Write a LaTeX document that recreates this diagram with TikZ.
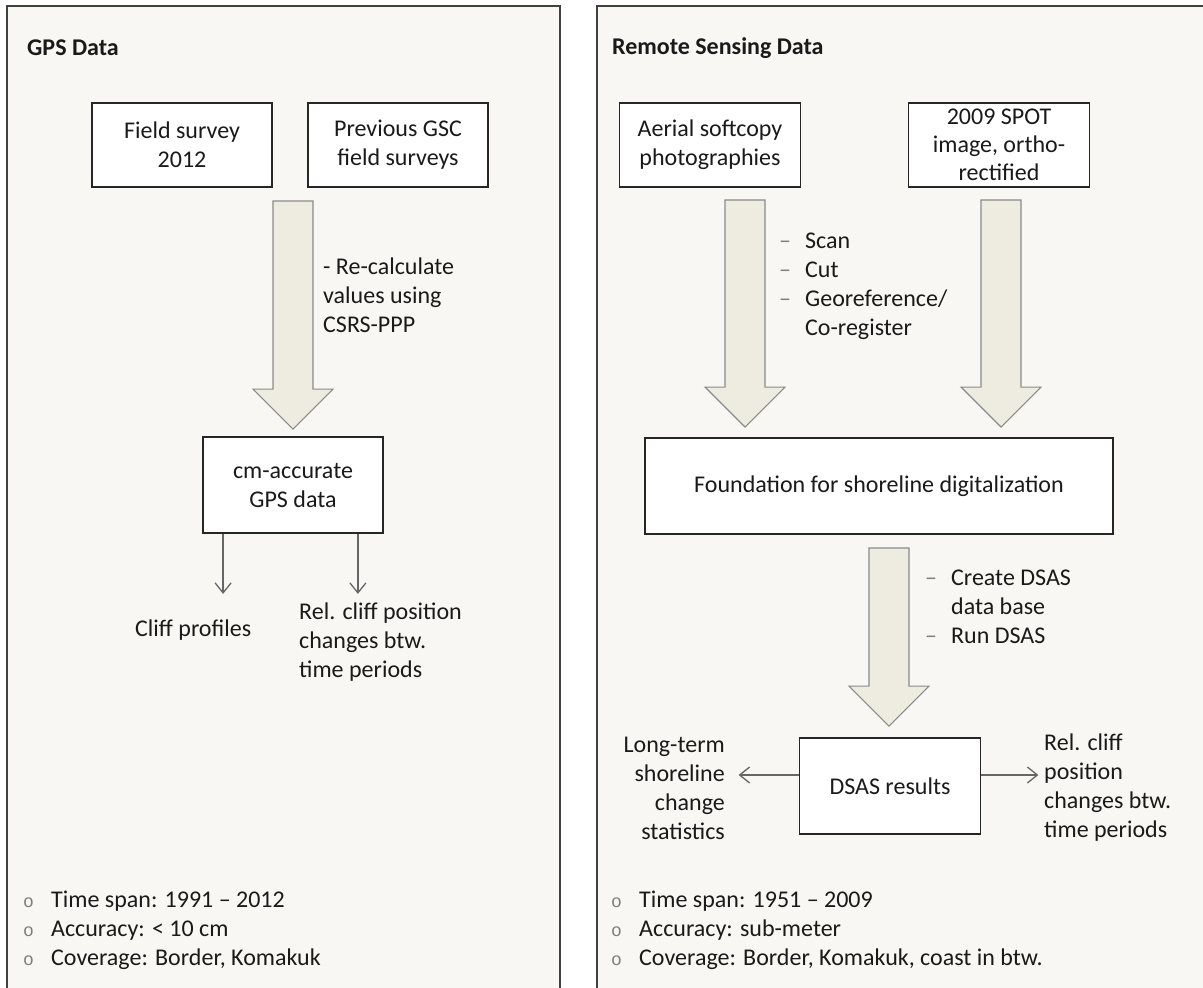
\documentclass[tikz,border=0pt]{standalone}
\usepackage{fontspec}
\setmainfont{Carlito}
\newfontfamily\bulfont{Liberation Mono}
\usetikzlibrary{calc,arrows.meta}
\definecolor{panelbg}{HTML}{F8F7F3}
\definecolor{panelborder}{HTML}{404040}
\definecolor{arrowfill}{HTML}{EEECE1}
\definecolor{arrowdraw}{HTML}{8A8A8A}
\definecolor{txt}{HTML}{1A1A1A}
\definecolor{thincol}{HTML}{666666}
\definecolor{dashcol}{HTML}{7F7F7F}
\newcommand\blockarrow[2]{\draw[bigarrow] let \p1=#1, \p2=#2 in (\x1-20pt,\y1) -- (\x1+20pt,\y1) -- (\x1+20pt,\y2+40pt) -- (\x1+40pt,\y2+40pt) -- (\x1,\y2) -- (\x1-40pt,\y2+40pt) -- (\x1-20pt,\y2+40pt) -- cycle;}
\newcommand\bul{\makebox[28pt][l]{\bulfont\fontsize{18}{29}\selectfont\color{dashcol}o}}
\newcommand\dsh{\textcolor{dashcol}{–}}
\begin{document}
\begin{tikzpicture}[x=1pt,y=-1pt, font=\fontsize{24}{29}\selectfont, text=txt,
 panel/.style={draw=panelborder, line width=1.5pt, fill=panelbg},
 box/.style={draw=black!85, line width=1.8pt, fill=white, align=center, inner sep=0pt},
 bigarrow/.style={draw=arrowdraw, line width=1.2pt, fill=arrowfill, line join=miter},
 lbl/.style={align=left, inner sep=0pt},
 thinarrow/.style={draw=thincol, line width=1.3pt, -{Straight Barb[length=10pt,width=16pt]}},
 title/.style={font=\fontsize{24}{29}\selectfont\bfseries, inner sep=0pt, anchor=west}]

\useasboundingbox (0,0) rectangle (1203,988);
\fill[white] (0,0) rectangle (1203,988);
\begin{scope}
\clip (0,0) rectangle (1203,988);
\draw[panel] (7,6) rectangle (560,1010);
\draw[panel] (597,6) rectangle (1220,1010);
\end{scope}

% titles
\node[title] (t1) at (27,48) {GPS Data};
\node[title] (t2) at (612,48) {Remote Sensing Data};

% left panel
\node[box, minimum width=180pt, minimum height=84pt] (f1) at (182,145) {Field survey\\2012};
\node[box, minimum width=180pt, minimum height=84pt] (f2) at (398,145) {Previous GSC\\field surveys};
\node[box, minimum width=180pt, minimum height=96pt] (cm) at (293,485) {cm-accurate\\GPS data};

\coordinate (aL) at ($(f1.south east)!0.5!(f2.south west)+(3,13)$);
\coordinate (aLt) at ($(aL |- cm.north)+(0,-7)$);
\blockarrow{(aL)}{(aLt)}

\node[lbl, anchor=west] (rl) at (323,295) {- Re-calculate\\values using\\CSRS-PPP};

\coordinate (c1) at ($(cm.south west)+(21,60)$);
\coordinate (c2) at ($(cm.south east)+(-26,60)$);
\draw[thinarrow] (cm.south west -| c1) -- (c1);
\draw[thinarrow] (cm.south west -| c2) -- (c2);

\node[lbl, anchor=west] (cp) at (135,630) {Cliff profiles};
\node[lbl, anchor=west] (rc1) at (299,642) {Rel. cliff position\\changes btw.\\time periods};

\node[lbl, anchor=west] (l1) at (23,931) {\begin{tabular}{@{}l@{}l@{}}
\bul & Time span: 1991 – 2012\\
\bul & Accuracy: < 10 cm\\
\bul & Coverage: Border, Komakuk
\end{tabular}};

% right panel
\node[box, minimum width=181pt, minimum height=84pt] (a1) at (710,145) {Aerial softcopy\\photographies};
\node[box, minimum width=181pt, minimum height=84pt, font=\fontsize{24}{28}\selectfont] (s1) at (999,145) {2009 SPOT\\image, ortho-\\rectified};
\node[box, minimum width=468pt, minimum height=96pt] (fd) at (879,486) {Foundation for shoreline digitalization};
\node[box, minimum width=181pt, minimum height=96pt] (ds) at (890,786) {DSAS results};

\coordinate (aR1) at ($(a1.south)+(35,12)$);
\coordinate (aR1t) at ($(aR1 |- fd.north)+(0,-10)$);
\blockarrow{(aR1)}{(aR1t)}
\coordinate (aR2) at ($(s1.south)+(2,12)$);
\coordinate (aR2t) at ($(aR2 |- fd.north)+(0,-10)$);
\blockarrow{(aR2)}{(aR2t)}
\coordinate (aR3) at ($(fd.south)+(10,13)$);
\coordinate (aR3t) at ($(aR3 |- ds.north)+(0,-11)$);
\blockarrow{(aR3)}{(aR3t)}

\node[lbl, anchor=west] (sl) at (779,286) {\begin{tabular}{@{}l@{\hspace{14pt}}l@{}}
\dsh & Scan\\
\dsh & Cut\\
\dsh & Georeference/\\
 & Co-register
\end{tabular}};

\node[lbl, anchor=west] (dl) at (925,609) {\begin{tabular}{@{}l@{\hspace{14pt}}l@{}}
\dsh & Create DSAS\\
 & data base\\
\dsh & Run DSAS
\end{tabular}};

\node[lbl, align=right, anchor=east] (lt) at (725,788) {Long-term\\shoreline\\change\\statistics};
\node[lbl, anchor=west] (rc2) at (1044,788) {Rel. cliff\\position\\changes btw.\\time periods};

\coordinate (dlw) at ($(ds.west)+(-60,-11)$);
\coordinate (dre) at ($(ds.east)+(57,-11)$);
\draw[thinarrow] (ds.west |- dlw) -- (dlw);
\draw[thinarrow] (ds.east |- dre) -- (dre);

\node[lbl, anchor=west] (l2) at (611,931) {\begin{tabular}{@{}l@{}l@{}}
\bul & Time span: 1951 – 2009\\
\bul & Accuracy: sub-meter\\
\bul & Coverage: Border, Komakuk, coast in btw.
\end{tabular}};
\end{tikzpicture}
\end{document}
